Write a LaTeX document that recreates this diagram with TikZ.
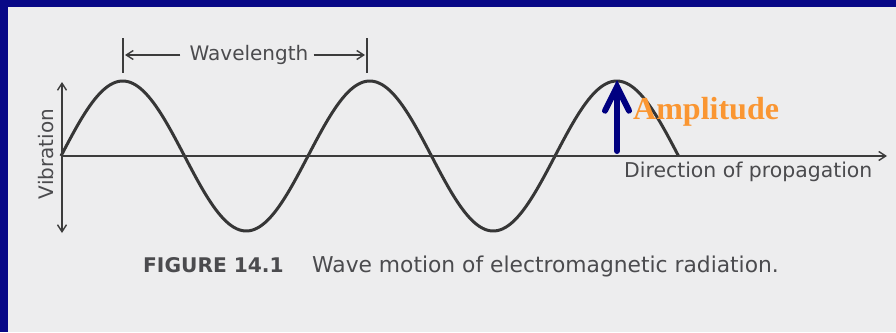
\documentclass[tikz,border=0pt]{standalone}
\usepackage{fontspec}
\setmainfont{Liberation Serif}
\newfontfamily\figsans{DejaVu Sans}
\usetikzlibrary{arrows.meta}
\definecolor{bgnavy}{RGB}{8,8,135}
\definecolor{paper}{RGB}{237,237,238}
\definecolor{ink}{RGB}{60,60,60}
\definecolor{txt}{RGB}{75,75,78}
\definecolor{ampnavy}{RGB}{0,0,128}
\definecolor{amporange}{RGB}{250,150,50}
\tikzset{
  lbl/.style={font=\figsans\fontsize{20}{22}\selectfont, text=txt, inner sep=0pt},
  caplbl/.style={font=\figsans\fontsize{21.8}{24}\selectfont, text=txt, inner sep=0pt},
  thinarrow/.style={draw=ink, line width=1.4pt, -{Straight Barb[length=7pt,width=9pt]}},
  wave/.style={draw=ink!90!black, line width=3pt},
  tick/.style={draw=ink, line width=1.4pt},
}
\begin{document}
\begin{tikzpicture}[x=1pt,y=-1pt]
\useasboundingbox (0,0) rectangle (896,332);
\fill[bgnavy] (0,0) rectangle (896,332);
\fill[paper] (8,7) rectangle (896,332);
% coordinates
\coordinate (o) at (62,156);
\coordinate (axend) at (887,156);
\coordinate (vtop) at (62,82);
\coordinate (vbot) at (62,233);
\coordinate (t1a) at (123,38);
\coordinate (t1b) at (123,73);
\coordinate (t2a) at (367,38);
\coordinate (t2b) at (367,73);
\coordinate (ampbase) at (617,151);
\coordinate (amptip) at (617,80);
% wave
\draw[wave] plot[domain=61:678.5, samples=240, smooth] (\x, {156-75*sin(1.45749*(\x-61))});
% axes
\draw[thinarrow] (o) -- (axend);
\draw[draw=ink, line width=1.4pt, {Straight Barb[length=7pt,width=9pt]}-{Straight Barb[length=7pt,width=9pt]}] (vtop) -- (vbot);
\node[lbl, rotate=90] (vib) at (46,154) {Vibration};
\node[lbl, anchor=base west, font=\figsans\fontsize{20.4}{22}\selectfont] (dir) at (624,177) {Direction of propagation};
% wavelength
\draw[tick] (t1a) -- (t1b);
\draw[tick] (t2a) -- (t2b);
\node[lbl] (wl) at (249,55) {Wavelength};
\coordinate (wlL) at (125,55);
\coordinate (wlR) at (365,55);
\path (wl.west) ++(-9,0) coordinate (wlLs);
\draw[thinarrow] (wlLs) -- (wlL);
\path (wl.east) ++(5,0) coordinate (wlRs);
\draw[thinarrow] (wlRs) -- (wlR);
% amplitude
\draw[draw=ampnavy, line width=6pt, line cap=round, -{Straight Barb[length=24pt,width=24pt,line cap=round]}] (ampbase) -- (amptip);
\node[font=\bfseries\fontsize{32}{34}\selectfont, text=amporange, anchor=base west, inner sep=0pt] (amp) at (633,119) {Amplitude};
% caption
\node[lbl, anchor=base west, font=\figsans\bfseries\fontsize{20.2}{22}\selectfont] (fig) at (143,272) {FIGURE 14.1};
\node[caplbl, anchor=base west] (cap) at (312,272) {Wave motion of electromagnetic radiation.};
\end{tikzpicture}
\end{document}
